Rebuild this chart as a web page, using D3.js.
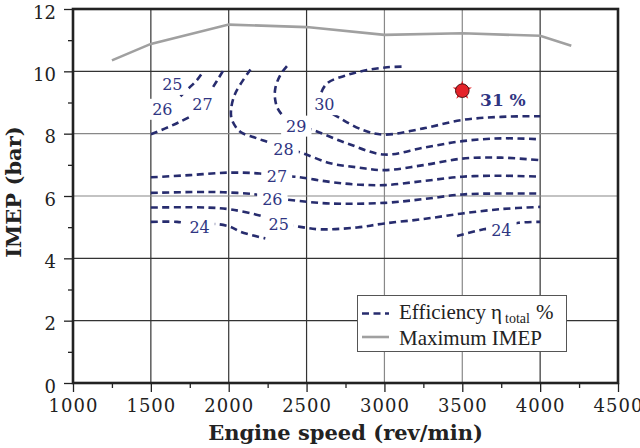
<!DOCTYPE html>
<html>
<head>
<meta charset="utf-8">
<script src="https://cdn.jsdelivr.net/npm/d3@7"></script>
<style>
	body { margin: 0; background: #fff; }
	svg { display: block; }
</style>
</head>
<body>
<svg></svg>
<script>
// Tick values
let speedTicks = [1000, 1500, 2000, 2500, 3000, 3500, 4000, 4500];
let speedMinor = [1250, 1750, 2250, 2750, 3250, 3750, 4250];
let imepTicks = [0, 2, 4, 6, 8, 10, 12];
let imepMinor = [1, 3, 5, 7, 9, 11];

// Maximum IMEP curve [rev/min, bar]
let maxImep = [[1250, 10.35], [1500, 10.88], [2000, 11.5], [2500, 11.42], [3000, 11.17], [3500, 11.22], [4000, 11.14], [4200, 10.82]];

// Efficiency contours [rev/min, bar]
let eff30 = [[3110, 10.15], [3017, 10.13], [2888, 10.04], [2760, 9.88], [2631, 9.61], [2590, 9.2], [2610, 8.85], [2717, 8.49], [2866, 8.11], [3000, 7.97], [3250, 8.17], [3500, 8.44], [3750, 8.54], [4000, 8.56]];
let eff29 = [[2374, 10.17], [2331, 9.88], [2299, 9.45], [2299, 9.07], [2320, 8.76], [2400, 8.35], [2545, 8.11], [2760, 7.69], [3000, 7.33], [3250, 7.55], [3500, 7.76], [3750, 7.85], [4000, 7.82]];
let eff28 = [[2140, 10.06], [2042, 9.29], [2015, 8.76], [2021, 8.44], [2074, 8.06], [2181, 7.85], [2246, 7.74], [2351, 7.55], [2476, 7.37], [2652, 7.05], [2824, 6.92], [3000, 6.83], [3250, 6.99], [3500, 7.2], [3750, 7.23], [4000, 7.15]];
let eff27 = [[1500, 6.6], [1750, 6.67], [2000, 6.75], [2200, 6.72], [2310, 6.64], [2428, 6.62], [2652, 6.45], [2824, 6.37], [3000, 6.35], [3250, 6.48], [3500, 6.62], [3750, 6.65], [4000, 6.62]];
let eff27b = [[1900, 9.5], [1935, 9.78], [1968, 10.05]];
let eff26 = [[1500, 6.1], [1860, 6.13], [2011, 6.11], [2160, 6.06], [2278, 5.95], [2396, 5.87], [2652, 5.76], [3000, 5.78], [3250, 5.9], [3500, 6.05], [3750, 6.08], [4000, 6.08]];
let eff26b = [[1500, 7.98], [1593, 8.17], [1678, 8.36], [1754, 8.55]];
let eff25 = [[1500, 5.63], [1860, 5.63], [2011, 5.57], [2214, 5.35], [2321, 5.15], [2459, 5.01], [2588, 4.93], [2824, 4.99], [3000, 5.12], [3250, 5.26], [3500, 5.44], [3750, 5.58], [4000, 5.65]];
let eff25b = [[1690, 9.2], [1742, 9.45], [1796, 9.72], [1830, 9.95]];
let eff24 = [[1500, 5.17], [1668, 5.17], [1813, 5.08], [1925, 5.1], [2011, 5.01], [2075, 4.85], [2235, 4.64]];
let eff24b = [[3466, 4.72], [3637, 4.93], [3750, 5.02], [3862, 5.14], [4000, 5.17]];

let contours = [eff30, eff29, eff28, eff27, eff27b, eff26, eff26b, eff25, eff25b, eff24, eff24b];

// Contour labels
let labelText = ["25", "26", "27", "30", "29", "28", "27", "26", "25", "24", "24"];
let labelSpeed = [1638, 1574, 1831, 2614, 2434, 2352, 2310, 2280, 2321, 1813, 3751];
let labelImep = [9.59, 8.79, 8.95, 8.94, 8.25, 7.5, 6.62, 5.89, 5.1, 5.01, 4.9];

// Best efficiency point
let bestPoint = [3500, 9.38];
let bestLabel = "31 %";
let bestLabelPos = [3761, 9.1];

// Chart variables
let width = 640;
let height = 448;
let plotLeft = 73;
let plotRight = 618;
let plotTop = 9;
let plotBottom = 383;
let navy = "#272c6e";
let serif = "'DejaVu Serif', serif";

let svg = d3.select("svg").attr("width", width).attr("height", height);

let xScale = d3.scaleLinear().domain([1000, 4500]).range([plotLeft, plotRight]);
let yScale = d3.scaleLinear().domain([0, 12]).range([plotBottom, plotTop]);

let line = d3.line()
	.x((d) => xScale(d[0]))
	.y((d) => yScale(d[1]))
	.curve(d3.curveCatmullRom.alpha(0.5));

// Grid
let darkX = [1500, 2000, 2500, 4000];
let darkY = [2, 4, 10];
svg.append("g")
	.selectAll("line")
	.data(speedTicks.filter((v) => v > 1000 && v < 4500))
	.join("line")
	.attr("x1", (d) => xScale(d))
	.attr("x2", (d) => xScale(d))
	.attr("y1", plotTop)
	.attr("y2", plotBottom)
	.attr("stroke", (d) => darkX.includes(d) ? "#333" : "#888")
	.attr("stroke-width", 1.2);

svg.append("g")
	.selectAll("line")
	.data(imepTicks.filter((v) => v > 0 && v < 12))
	.join("line")
	.attr("x1", plotLeft)
	.attr("x2", plotRight)
	.attr("y1", (d) => yScale(d))
	.attr("y2", (d) => yScale(d))
	.attr("stroke", (d) => darkY.includes(d) ? "#333" : "#888")
	.attr("stroke-width", 1.2);

// Maximum IMEP
svg.append("path")
	.datum(maxImep)
	.attr("d", d3.line().x((d) => xScale(d[0])).y((d) => yScale(d[1])))
	.attr("fill", "none")
	.attr("stroke", "#a0a0a0")
	.attr("stroke-width", 2.6);

// Contours
svg.append("g")
	.selectAll("path")
	.data(contours)
	.join("path")
	.attr("d", line)
	.attr("fill", "none")
	.attr("stroke", navy)
	.attr("stroke-width", 2.6)
	.attr("stroke-dasharray", "7,4.5");

// Labels with white boxes
let labelG = svg.append("g");
labelText.forEach((t, i) => {
	let g = labelG.append("g");
	let txt = g.append("text")
		.attr("x", xScale(labelSpeed[i]))
		.attr("y", yScale(labelImep[i]))
		.attr("dy", "0.36em")
		.attr("text-anchor", "middle")
		.attr("font-family", serif)
		.attr("font-size", 16)
		.attr("fill", "#2f3582")
		.text(t);
	let b = txt.node().getBBox();
	g.insert("rect", "text")
		.attr("x", b.x - 5)
		.attr("y", b.y - 1)
		.attr("width", b.width + 10)
		.attr("height", b.height + 2)
		.attr("fill", "#fff");
});

svg.append("text")
	.attr("x", xScale(bestLabelPos[0]))
	.attr("y", yScale(bestLabelPos[1]))
	.attr("dy", "0.36em")
	.attr("text-anchor", "middle")
	.attr("font-family", serif)
	.attr("font-weight", "bold")
	.attr("font-size", 17)
	.attr("fill", "#2f3582")
	.text(bestLabel);

// Best point marker
let bx = xScale(bestPoint[0]);
let by = yScale(bestPoint[1]);
svg.append("path")
	.attr("d", d3.symbol().type(d3.symbolStar).size(115))
	.attr("transform", "translate(" + bx + ", " + by + ")")
	.attr("fill", "#e52229");
svg.append("circle")
	.attr("cx", bx)
	.attr("cy", by)
	.attr("r", 6.8)
	.attr("fill", "#e52229")
	.attr("stroke", "#4a1414")
	.attr("stroke-width", 1);

// Frame
svg.append("rect")
	.attr("x", plotLeft)
	.attr("y", plotTop)
	.attr("width", plotRight - plotLeft)
	.attr("height", plotBottom - plotTop)
	.attr("fill", "none")
	.attr("stroke", "#222")
	.attr("stroke-width", 2.6);

// Axes
let xAxis = d3.axisBottom(xScale).tickValues(speedTicks).tickSize(9).tickPadding(8).tickFormat(d3.format("d"));
let xMinor = d3.axisBottom(xScale).tickValues(speedMinor).tickSize(5).tickFormat("");
let yAxis = d3.axisLeft(yScale).tickValues(imepTicks).tickSize(9).tickPadding(8);
let yMinor = d3.axisLeft(yScale).tickValues(imepMinor).tickSize(5).tickFormat("");

let gx = svg.append("g").attr("transform", "translate(0, " + plotBottom + ")").call(xAxis);
svg.append("g").attr("transform", "translate(0, " + plotBottom + ")").call(xMinor);
let gy = svg.append("g").attr("transform", "translate(" + plotLeft + ", 0)").call(yAxis);
svg.append("g").attr("transform", "translate(" + plotLeft + ", 0)").call(yMinor);

svg.selectAll(".domain").remove();
svg.selectAll(".tick line").attr("stroke", "#222").attr("stroke-width", 1.3);
svg.selectAll(".tick text")
	.attr("font-family", serif)
	.attr("font-size", 18)
	.attr("fill", "#222");
gx.selectAll(".tick text").attr("letter-spacing", 1).attr("dy", "0.66em");
gy.selectAll(".tick text").attr("dy", "0.5em");

// Axis titles
svg.append("text")
	.attr("x", (plotLeft + plotRight) / 2)
	.attr("y", 440)
	.attr("text-anchor", "middle")
	.attr("font-family", serif)
	.attr("font-weight", "bold")
	.attr("font-size", 21)
	.attr("fill", "#222")
	.text("Engine speed (rev/min)");

svg.append("text")
	.attr("transform", "translate(21, " + ((plotTop + plotBottom) / 2 - 4) + ") rotate(-90)")
	.attr("text-anchor", "middle")
	.attr("font-family", serif)
	.attr("font-weight", "bold")
	.attr("font-size", 21)
	.attr("fill", "#222")
	.text("IMEP (bar)");

// Legend
let legend = svg.append("g");
legend.append("rect")
	.attr("x", 357.5)
	.attr("y", 295.5)
	.attr("width", 209)
	.attr("height", 56)
	.attr("fill", "#fff")
	.attr("stroke", "#555")
	.attr("stroke-width", 1);
legend.append("line")
	.attr("x1", 362).attr("x2", 389)
	.attr("y1", 313.5).attr("y2", 313.5)
	.attr("stroke", navy)
	.attr("stroke-width", 2.6)
	.attr("stroke-dasharray", "7,4.5");
legend.append("line")
	.attr("x1", 362).attr("x2", 389)
	.attr("y1", 337).attr("y2", 337)
	.attr("stroke", "#a0a0a0")
	.attr("stroke-width", 2.6);
let eff = legend.append("text")
	.attr("x", 399)
	.attr("y", 319)
	.attr("font-family", "'Liberation Serif', serif")
	.attr("font-size", 21)
	.attr("fill", "#222");
eff.append("tspan").text("Efficiency");
eff.append("tspan").attr("dx", 5).text("η");
eff.append("tspan").attr("font-size", 14).attr("dx", 3).attr("dy", 4).text("total");
eff.append("tspan").attr("dx", 6).attr("dy", -4).text("%");
legend.append("text")
	.attr("x", 399)
	.attr("y", 345)
	.attr("font-family", "'Liberation Serif', serif")
	.attr("font-size", 21)
	.attr("fill", "#222")
	.text("Maximum IMEP");
</script>
</body>
</html>
